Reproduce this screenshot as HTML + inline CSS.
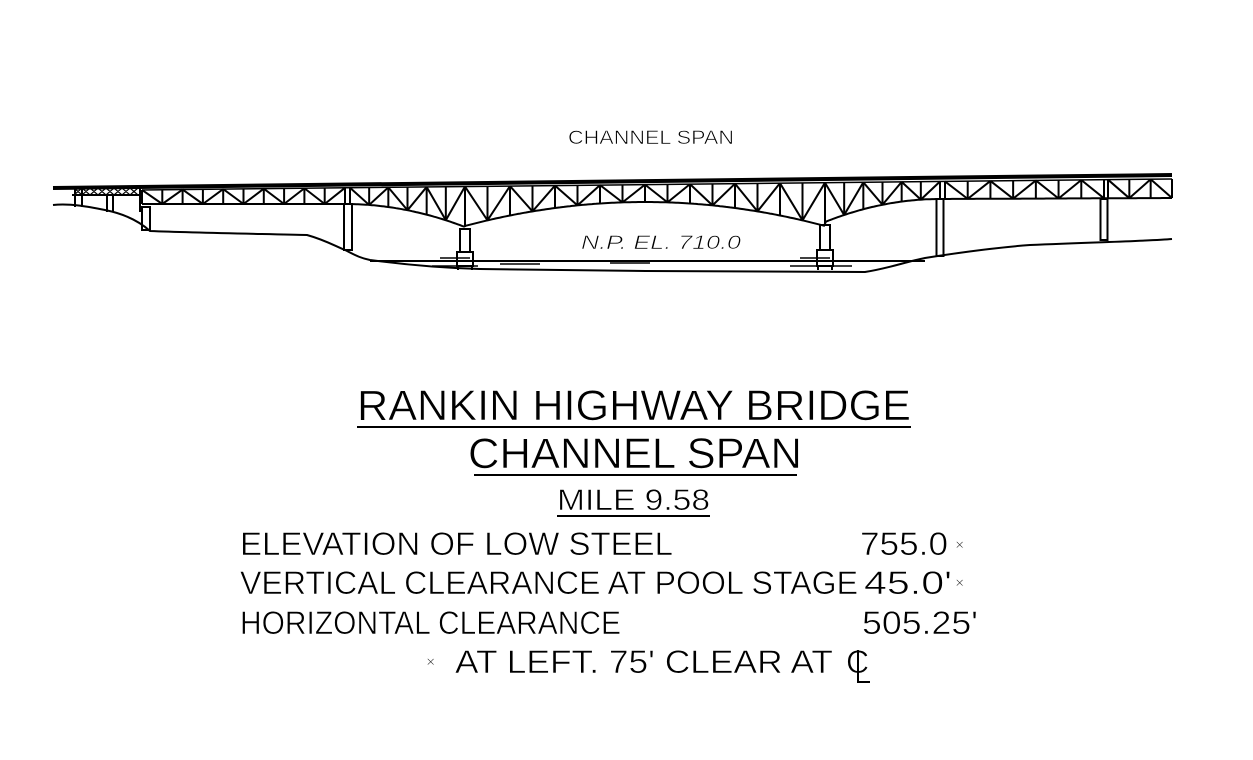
<!DOCTYPE html>
<html><head><meta charset="utf-8"><style>
html,body{margin:0;padding:0;background:#fff;}
svg{display:block;}
text{font-family:"Liberation Sans",sans-serif;fill:#000;stroke:#fff;stroke-width:0.6;paint-order:normal;}
</style></head><body>
<svg id="s" width="1253" height="760" viewBox="0 0 1253 760" xmlns="http://www.w3.org/2000/svg">
<g id="br" stroke="#000" fill="none" stroke-width="2">
<line x1="53" y1="188" x2="1172" y2="175" stroke-width="4"/>
<line x1="72" y1="195" x2="140" y2="195"/>
<path d="M75 188 L75 207 M82 188 L82 207 M107 195 L107 212 M113 195 L113 212 M140 188 L140 212" />
<path d="M74 188 L82 195 L90 188 L98 195 L106 188 L114 195 L122 188 L130 195 L138 188 M74 195 L82 188 L90 195 L98 188 L106 195 L114 188 L122 195 L130 188 L138 195" stroke-width="1.2"/>
<path d="M53 205 C70 203 90 207 105 210 C125 214 140 222 150 231 C200 233 270 234 307 235 C325 240 335 246 345 250 C355 255 360 258 370 260 C400 264 440 268 480 269 C600 271 760 272 865 272 C890 268 905 262 925 258 C950 254 990 248 1030 245 C1100 242 1150 241 1172 239"/>
<line x1="370" y1="261" x2="925" y2="261"/>
<path d="M432 266 L478 266 M500 264 L540 264 M610 263 L650 263 M790 266 L852 266 M440 258 L470 258 M800 258 L830 258" stroke-width="1.6"/>
</g>
<g id="tr" stroke="#000" fill="none" stroke-width="2"></g>
<text x="651" y="144" font-size="19" text-anchor="middle" textLength="166" lengthAdjust="spacingAndGlyphs">CHANNEL SPAN</text>
<text x="581" y="249" font-size="19" font-style="italic" textLength="160" lengthAdjust="spacingAndGlyphs">N.P. EL. 710.0</text>
<text x="357" y="420" font-size="43" textLength="554" lengthAdjust="spacingAndGlyphs">RANKIN HIGHWAY BRIDGE</text>
<line x1="357" y1="427" x2="911" y2="427" stroke="#000" stroke-width="2"/>
<text x="468" y="468" font-size="43" textLength="334" lengthAdjust="spacingAndGlyphs">CHANNEL SPAN</text>
<line x1="474" y1="475" x2="797" y2="475" stroke="#000" stroke-width="2"/>
<text x="557" y="510" font-size="30" textLength="153" lengthAdjust="spacingAndGlyphs">MILE 9.58</text>
<line x1="557" y1="516" x2="710" y2="516" stroke="#000" stroke-width="2"/>
<text x="240" y="555" font-size="32" textLength="433" lengthAdjust="spacingAndGlyphs">ELEVATION OF LOW STEEL</text>
<text x="860" y="555" font-size="32" textLength="88" lengthAdjust="spacingAndGlyphs">755.0</text>
<text x="955" y="550" font-size="16">×</text>
<text x="240" y="594" font-size="32" textLength="618" lengthAdjust="spacingAndGlyphs">VERTICAL CLEARANCE AT POOL STAGE</text>
<text x="864" y="594" font-size="32" textLength="88" lengthAdjust="spacingAndGlyphs">45.0'</text>
<text x="955" y="588" font-size="16">×</text>
<text x="240" y="634" font-size="32" textLength="381" lengthAdjust="spacingAndGlyphs">HORIZONTAL CLEARANCE</text>
<text x="862" y="634" font-size="32" textLength="116" lengthAdjust="spacingAndGlyphs">505.25'</text>
<text x="426" y="667" font-size="16">×</text>
<text x="455" y="673" font-size="32" textLength="378" lengthAdjust="spacingAndGlyphs">AT LEFT. 75' CLEAR AT</text>
<text x="846" y="673" font-size="32">C</text>
<line x1="858" y1="650" x2="858" y2="683" stroke="#000" stroke-width="2"/>
<line x1="858" y1="682" x2="870" y2="682" stroke="#000" stroke-width="2"/>
</svg>
<script>
(function(){
var g=document.getElementById('tr'),ns='http://www.w3.org/2000/svg';
function L(x1,y1,x2,y2,w){var l=document.createElementNS(ns,'line');l.setAttribute('x1',x1);l.setAttribute('y1',y1);l.setAttribute('x2',x2);l.setAttribute('y2',y2);if(w)l.setAttribute('stroke-width',w);g.appendChild(l);}
function yt(x){return 188-(x-140)*11/1032+2;}
function yb(x){
 if(x<=345)return 204;
 if(x<=465){var t=(x-345)/120;return 204+23*t*t;}
 if(x<=825){var t=(x-645)/180;return 202+24*t*t;}
 if(x<=940){var t=(940-x)/115;return 199+23*t*t;}
 return 199-(x-940)*1/232;
}
var p='';for(var x=142;x<=1172;x+=2){p+=(x==142?'M':'L')+x+' '+yb(x).toFixed(1)+' ';}
var pa=document.createElementNS(ns,'path');pa.setAttribute('d',p);g.appendChild(pa);
L(142,yt(142),1172,yt(1172),1.5);
function seg(a,b,n){var w=(b-a)/n;for(var i=0;i<=n;i++){var x=a+i*w;L(x,yt(x),x,yb(x));}
 for(var i=0;i<n;i++){var x0=a+i*w,x1=x0+w;if(i%2==0)L(x0,yt(x0),x1,yb(x1));else L(x0,yb(x0),x1,yt(x1));}}
seg(142,345,10);seg(350,465,6);seg(465,645,8);seg(645,825,8);seg(825,940,6);seg(945,1104,7);seg(1108,1172,3);
function pier(x,w,y1,y2){var r=document.createElementNS(ns,'rect');r.setAttribute('x',x-w/2);r.setAttribute('y',y1);r.setAttribute('width',w);r.setAttribute('height',y2-y1);g.appendChild(r);}
pier(146,8,207,230);pier(348,8,204,250);pier(940,7,199,256);pier(1104,7,199,240);
pier(465,10,229,252);pier(465,16,252,266);L(458,266,458,270);L(472,266,472,270);
pier(825,10,225,250);pier(825,16,250,266);L(818,266,818,270);L(832,266,832,270);
})();
</script>
</body></html>
